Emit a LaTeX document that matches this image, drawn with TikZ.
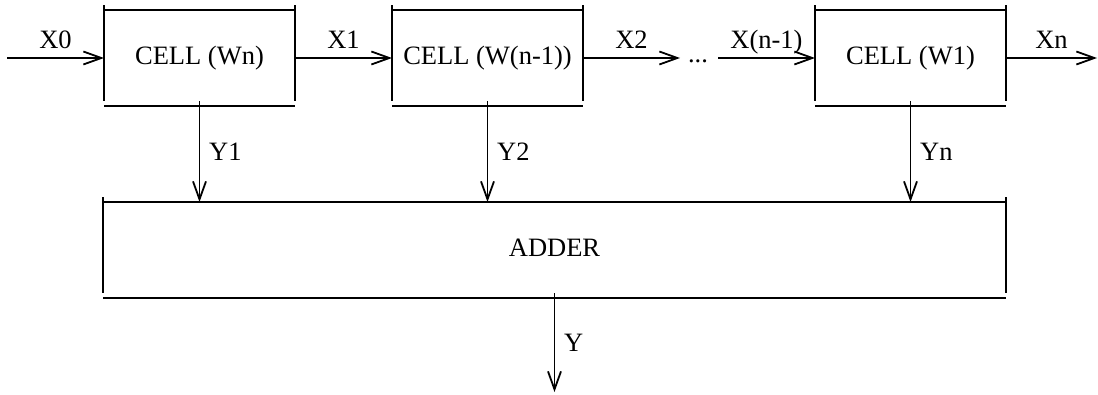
\documentclass[tikz,border=0pt]{standalone}
\usepackage{fontspec}
\setmainfont{Liberation Serif}
\usetikzlibrary{arrows.meta}
\begin{document}
\begin{tikzpicture}[x=1pt,y=-1pt,
  font=\fontsize{26.5}{30}\selectfont,
  line width=1.4pt,
  >={Straight Barb[length=18pt,width=13pt,line width=1.8pt]},
  blk/.style={minimum width=191pt,minimum height=96pt,inner sep=0pt,outer sep=0pt,text height=18pt,text depth=5pt},
  lblx/.style={midway,anchor=base,yshift=9pt,inner sep=0pt},
  lbly/.style={midway,anchor=base west,xshift=9pt,yshift=-9pt,inner sep=0pt}]
\useasboundingbox (0,0) rectangle (1098,395);
\node[blk] (c1) at (199.5,58) {CELL (Wn)};
\node[blk] (c2) at (487.5,58) {CELL (W(n-1))};
\node[blk] (c3) at (910.5,58) {CELL (W1)};
\node[blk,minimum width=903pt] (adder) at (554.5,250) {ADDER};
\foreach \n in {c1,c2,c3,adder}{
  \draw (\n.north west) -- (\n.north east);
  \draw (\n.south west) -- (\n.south east);
  \draw ([yshift=4.5pt]\n.north west) -- ([yshift=4.5pt]\n.south west);
  \draw ([yshift=4.5pt]\n.north east) -- ([yshift=4.5pt]\n.south east);
}
\coordinate (in0) at (7,58);
\coordinate (d1) at (680,58);
\coordinate (d2) at (718,58);
\coordinate (out) at (1097,58);
\coordinate (yend) at (554.5,392);
\node[anchor=base,inner sep=0pt] (dots) at (698,63) {...};
\draw[->] (in0) -- (c1.west) node[lblx] (lx0) {X0};
\draw[->] (c1.east) -- (c2.west) node[lblx] (lx1) {X1};
\draw[->] (c2.east) -- (d1) node[lblx] (lx2) {X2};
\draw[->] (d2) -- (c3.west) node[lblx] (lxn1) {X(n-1)};
\draw[->] (c3.east) -- (out) node[lblx] (lxn) {Xn};
\draw[->] ([yshift=4.5pt]c1.south) -- (c1.south |- adder.north) node[lbly] (ly1) {Y1};
\draw[->] ([yshift=4.5pt]c2.south) -- (c2.south |- adder.north) node[lbly] (ly2) {Y2};
\draw[->] ([yshift=4.5pt]c3.south) -- (c3.south |- adder.north) node[lbly] (lyn) {Yn};
\draw[->] ([yshift=4.5pt]adder.south) -- (yend) node[lbly] (ly) {Y};
\end{tikzpicture}
\end{document}
